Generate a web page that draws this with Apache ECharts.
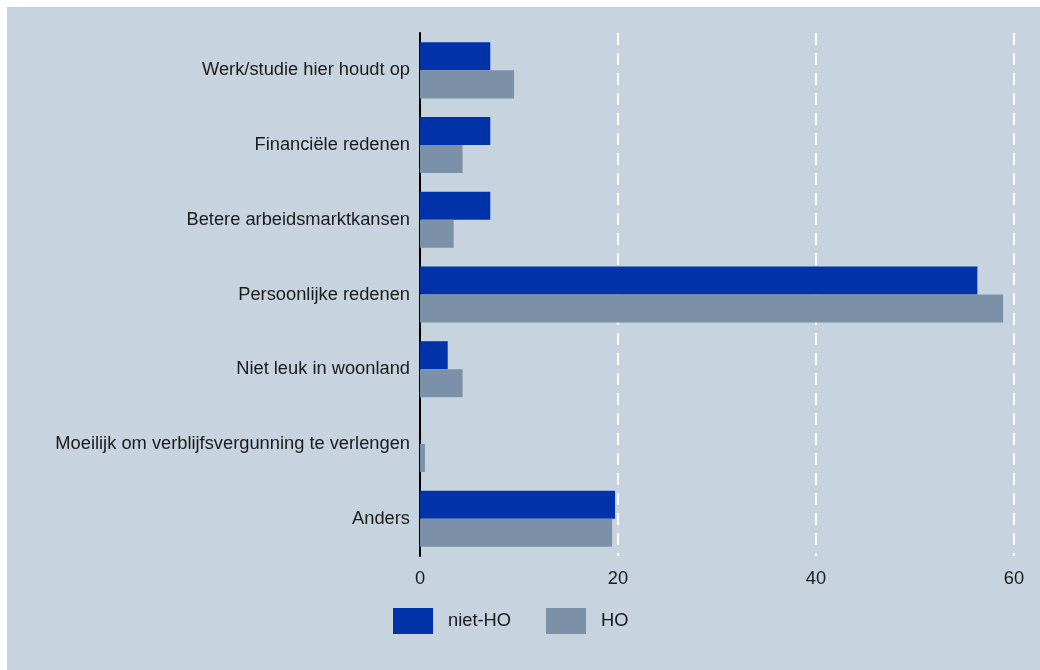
<!DOCTYPE html>
<html><head><meta charset="utf-8">
<script src="https://cdn.jsdelivr.net/npm/echarts@6/dist/echarts.min.js"></script>
<style>html,body{margin:0;padding:0;background:#fff}#c{width:1040px;height:670px}</style>
</head><body><div id="c"></div>
<script>
const categories = ["Werk/studie hier houdt op","Financiële redenen","Betere arbeidsmarktkansen","Persoonlijke redenen","Niet leuk in woonland","Moeilijk om verblijfsvergunning te verlengen","Anders"];
const nietHO = [7.1, 7.1, 7.1, 56.3, 2.8, 0, 19.7];
const HO = [9.5, 4.3, 3.4, 58.9, 4.3, 0.5, 19.4];
const seriesNames = ["niet-HO","HO"];
const xTicks = [0, 20, 40, 60];

const chart = echarts.init(document.getElementById('c'), null, {renderer:'canvas'});
const font = "'Liberation Sans', Arial, sans-serif";
chart.setOption({
  backgroundColor: '#ffffff',
  animation: false,
  textStyle: {fontFamily: font},
  graphic: [{type:'rect', z:-10, silent:true, shape:{x:7,y:7,width:1033,height:663}, style:{fill:'#c7d3df'}}],
  grid: {left:420, right:26, top:33, bottom:114, containLabel:false},
  legend: {
    data: seriesNames, left: 393, top: 608, padding: 0, itemWidth: 40, itemHeight: 26, itemGap: 35,
    icon: 'rect',
    textStyle: {fontFamily: font, fontSize: 18.3, color:'#1a1a1a', padding:[0,0,0,10]}
  },
  xAxis: {
    type:'value', min:0, max:60, interval:20,
    axisLine:{show:false}, axisTick:{show:false},
    axisLabel:{fontFamily:font, fontSize:18.3, color:'#1a1a1a', margin:14,
      formatter: v => xTicks.includes(v) ? String(v) : ''},
    splitLine:{show:true, lineStyle:{color:'#ffffff', type:[12,8], width:2}},
    position:'bottom'
  },
  yAxis: {
    type:'category', data: categories, inverse:true,
    axisLine:{show:true, lineStyle:{color:'#000', width:2}}, axisTick:{show:false},
    axisLabel:{fontFamily:font, fontSize:18.3, color:'#1a1a1a', margin:10}
  },
  series: [
    {name:seriesNames[0], type:'bar', data:nietHO, barGap:'0%', barCategoryGap:'25%',
      itemStyle:{color:'#0033aa'}},
    {name:seriesNames[1], type:'bar', data:HO, barGap:'0%', barCategoryGap:'25%',
      itemStyle:{color:'#7b91a8'}}
  ]
});
</script></body></html>
